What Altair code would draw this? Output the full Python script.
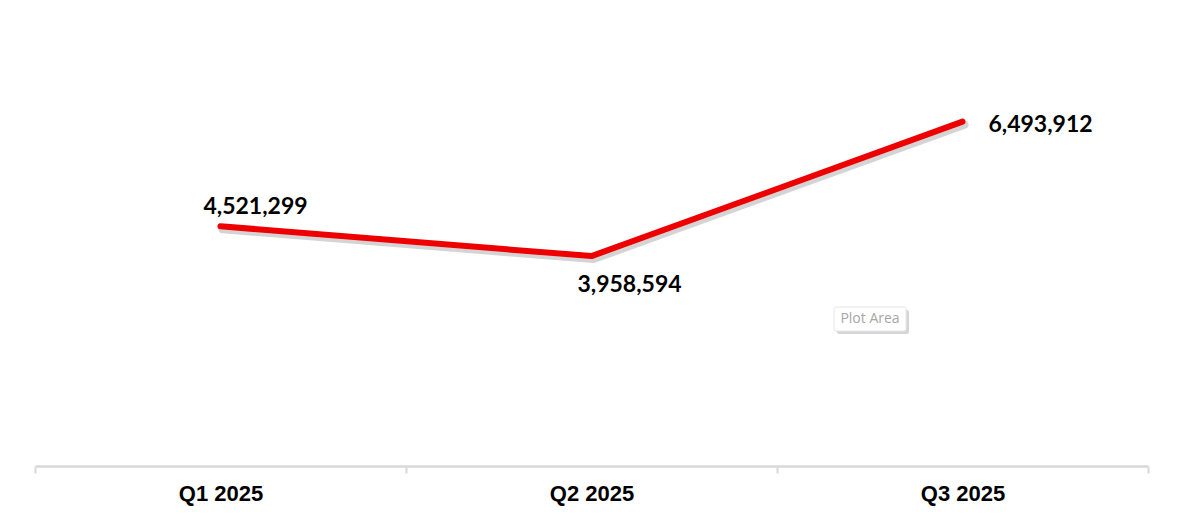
import altair as alt
import pandas as pd

quarters = ["Q1 2025", "Q2 2025", "Q3 2025"]
values = [4521299, 3958594, 6493912]
labels = ["4,521,299", "3,958,594", "6,493,912"]

df = pd.DataFrame({"quarter": quarters, "value": values, "label": labels})

x_enc = alt.X(
    "quarter:N",
    sort=quarters,
    bandPosition=0.5,
    scale=alt.Scale(type="band", paddingInner=0, paddingOuter=0),
    axis=alt.Axis(
        title=None,
        tickBand="extent",
        domainColor="#d9d9d9",
        domainWidth=2.5,
        tickColor="#d9d9d9",
        tickWidth=2,
        tickSize=7,
        labelFont="Liberation Sans",
        labelFontWeight="bold",
        labelFontSize=22,
        labelColor="#000000",
        labelPadding=10,
        labelAngle=0,
        grid=False,
    ),
)
y_enc = alt.Y("value:Q", scale=alt.Scale(domain=[0, 8600000], nice=False, zero=True), axis=None)

base = alt.Chart(df)

shadow = base.mark_line(
    color="#707070", strokeWidth=8, opacity=0.3, strokeCap="round", strokeJoin="round",
    xOffset=2, yOffset=3,
).encode(x=x_enc, y=y_enc)

line = base.mark_line(
    color="#ee0000", strokeWidth=6, strokeCap="round", strokeJoin="round"
).encode(x=x_enc, y=y_enc)

offsets = {"Q1 2025": (35, -19), "Q2 2025": (38, 29), "Q3 2025": (78, 3)}
text_layers = []
for q in quarters:
    dx, dy = offsets[q]
    text_layers.append(
        base.transform_filter(alt.datum.quarter == q).mark_text(
            font="Lato", fontWeight="bold", fontSize=23, color="#000000",
            align="center", baseline="middle", dx=dx, dy=dy,
        ).encode(x=x_enc, y=y_enc, text="label:N")
    )

note_df = pd.DataFrame({"t": ["Plot Area"]})
note_shadow = alt.Chart(note_df).mark_rect(color="#d6d6d6", cornerRadius=2).encode(
    x=alt.value(802), x2=alt.value(874), y=alt.value(300), y2=alt.value(324)
)
note_box = alt.Chart(note_df).mark_rect(
    fill="#ffffff", stroke="#e6e6e6", strokeWidth=1, cornerRadius=2
).encode(x=alt.value(799), x2=alt.value(871), y=alt.value(297), y2=alt.value(321))
note_text = alt.Chart(note_df).mark_text(
    font="Open Sans", fontSize=14, color="#a6a6a6", align="center", baseline="middle"
).encode(x=alt.value(835), y=alt.value(309), text="t:N")

chart = alt.layer(shadow, line, *text_layers, note_shadow, note_box, note_text).properties(
    width=1113, height=456,
    padding={"left": 27, "top": 2, "right": 20, "bottom": 40},
    autosize=alt.AutoSizeParams(type="none"),
).configure(background="#ffffff").configure_view(strokeOpacity=0, strokeWidth=0)

chart.save("out.html", embed_options={"renderer": "svg", "actions": False})
